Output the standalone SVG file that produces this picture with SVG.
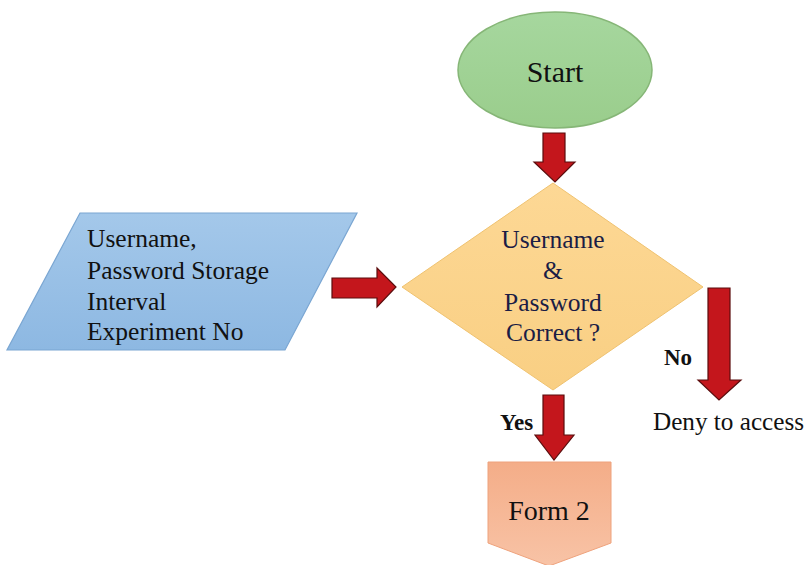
<svg xmlns="http://www.w3.org/2000/svg" width="808" height="565" viewBox="0 0 808 565">
<defs>
<linearGradient id="gGreen" x1="0" y1="0" x2="0" y2="1"><stop offset="0" stop-color="#a6d79e"/><stop offset="1" stop-color="#9acd8c"/></linearGradient>
<linearGradient id="gBlue" x1="0" y1="0" x2="0" y2="1"><stop offset="0" stop-color="#a4c8ea"/><stop offset="1" stop-color="#8db8e2"/></linearGradient>
<linearGradient id="gGold" x1="0" y1="0" x2="0" y2="1"><stop offset="0" stop-color="#fdd895"/><stop offset="1" stop-color="#f9cf83"/></linearGradient>
<linearGradient id="gSalmon" x1="0" y1="0" x2="0" y2="1"><stop offset="0" stop-color="#f4ad88"/><stop offset="1" stop-color="#f8c3a6"/></linearGradient>
</defs>
<style>
.t{font-family:"Liberation Serif","Times New Roman",serif;fill:#111;}
.d{font-family:"Liberation Serif","Times New Roman",serif;fill:#1b1d45;font-size:25.5px;text-anchor:middle;}
.b{font-family:"Liberation Serif","Times New Roman",serif;fill:#111;font-weight:bold;font-size:23px;}
.arr{fill:#c4161c;stroke:#5b0d0d;stroke-width:1.2;stroke-linejoin:miter;}
</style>
<rect width="808" height="565" fill="#ffffff"/>
<g id="start">
<ellipse cx="555" cy="70" rx="97" ry="58" fill="url(#gGreen)" stroke="#86b677" stroke-width="1.5"/>
<text class="t" x="555" y="82" font-size="30" text-anchor="middle">Start</text>
</g>
<g id="input">
<polygon points="80,213 357,213 285,350 7,350" fill="url(#gBlue)" stroke="#7aa6d2" stroke-width="1.2"/>
<text class="t" font-size="25.5"><tspan x="87" y="247">Username,</tspan><tspan x="87" y="279">Password Storage</tspan><tspan x="87" y="310">Interval</tspan><tspan x="87" y="340">Experiment No</tspan></text>
</g>
<g id="decision">
<polygon points="553,183 703,287 553,390 402,287" fill="url(#gGold)" stroke="#efc270" stroke-width="1"/>
<text class="d"><tspan x="553" y="248">Username</tspan><tspan x="553" y="279">&amp;</tspan><tspan x="553" y="311">Password</tspan><tspan x="553" y="341">Correct ?</tspan></text>
</g>
<g id="form2">
<polygon points="488,462 611,462 611,543 549,566 488,543" fill="url(#gSalmon)" stroke="#eea27c" stroke-width="1"/>
<text class="t" x="549" y="520" font-size="28" text-anchor="middle">Form 2</text>
</g>
<g id="deny">
<text class="t" x="653" y="430" font-size="25.2">Deny to access</text>
</g>
<g id="connectors">
<polygon class="arr" points="543,133 565,133 565,162 575,162 555,182 534,162 543,162"/>
<polygon class="arr" points="332,278 377,278 377,268 396,287 377,307 377,298 332,298"/>
<polygon class="arr" points="543,395 564,395 564,435 574,435 554,460 535,435 543,435"/>
<polygon class="arr" points="708,288 730,288 730,380 741,380 719,400 698,380 708,380"/>
<text class="b" x="500" y="430">Yes</text>
<text class="b" x="664" y="365">No</text>
</g>
</svg>
